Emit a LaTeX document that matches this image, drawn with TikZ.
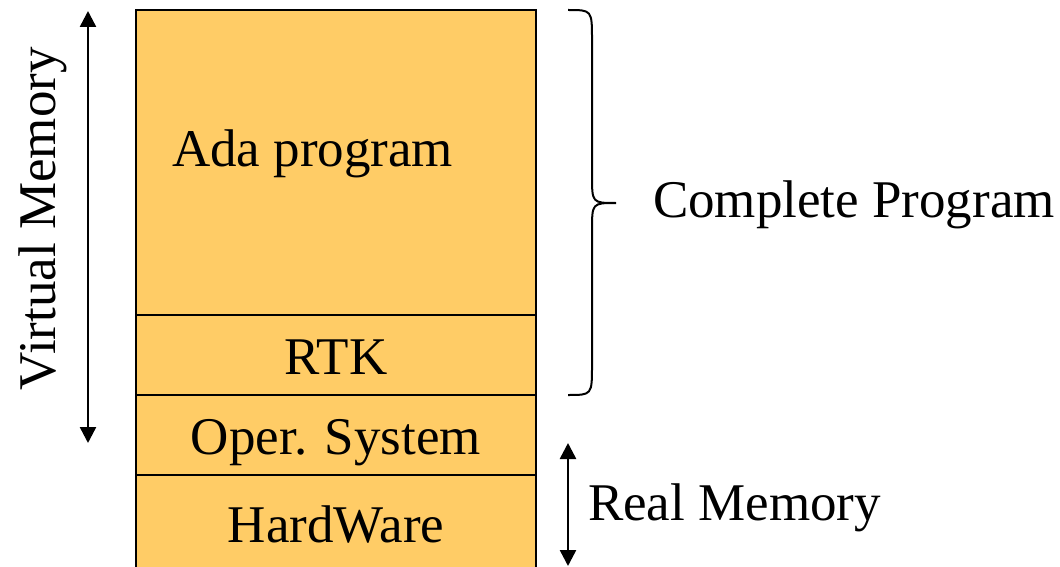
\documentclass[tikz,border=0pt]{standalone}
\usepackage{fontspec}
\setmainfont{Liberation Serif}
\usetikzlibrary{arrows.meta}
\definecolor{layerfill}{HTML}{FFCC66}
\tikzset{
  layer/.style={draw=black, line width=2.5pt, fill=layerfill, inner sep=0pt, outer sep=0pt},
  big/.style={font=\fontsize{53}{60}\selectfont, inner sep=0pt, outer sep=0pt},
  dimarrow/.style={line width=2.5pt, {Triangle[length=16pt,width=16pt]}-{Triangle[length=16pt,width=16pt]}},
}
\begin{document}
\begin{tikzpicture}[x=1pt, y=-1pt]
  \useasboundingbox (0,0) rectangle (1060,567);

  % memory layers, top to bottom
  \node[layer, minimum width=400pt, minimum height=305pt, anchor=north west] (ada) at (136,10) {};
  \node[layer, minimum width=400pt, minimum height=80pt, anchor=north west] (rtk) at (136,315) {};
  \node[layer, minimum width=400pt, minimum height=80pt, anchor=north west] (os) at (136,395) {};
  \node[layer, minimum width=400pt, minimum height=100pt, anchor=north west] (hw) at (136,475) {};

  % layer labels
  \node[big, anchor=base west] (adatext) at (172,166) {Ada program};
  \node[big, anchor=base] (rtktext) at (336,374) {RTK};
  \node[big, anchor=base] (ostext) at (336,454) {Oper. System};
  \node[big, anchor=base] (hwtext) at (336,542) {HardWare};

  % virtual memory extent
  \coordinate (vtop) at (88,11);
  \coordinate (vbot) at (88,443);
  \draw[dimarrow] (vtop) -- (vbot);
  \node[big, rotate=90, anchor=base west] (vmem) at (55,390) {Virtual Memory};

  % real memory extent
  \coordinate (rtop) at (568,443);
  \coordinate (rbot) at (568,566);
  \draw[dimarrow] (rtop) -- (rbot);
  \node[big, anchor=base west] (rmem) at (588,520) {Real Memory};

  % brace over the complete program
  \coordinate (btop) at (568,10);
  \coordinate (btip) at (616,203);
  \coordinate (bbot) at (568,395);
  \draw[line width=2pt]
    (btop) .. controls (592,10) .. (592,40) -- (592,175)
    .. controls (592,203) .. (btip)
    .. controls (592,203) .. (592,231) -- (592,365)
    .. controls (592,395) .. (bbot);
  \node[big, anchor=base west] (complete) at (653,217) {Complete Program};
\end{tikzpicture}
\end{document}
